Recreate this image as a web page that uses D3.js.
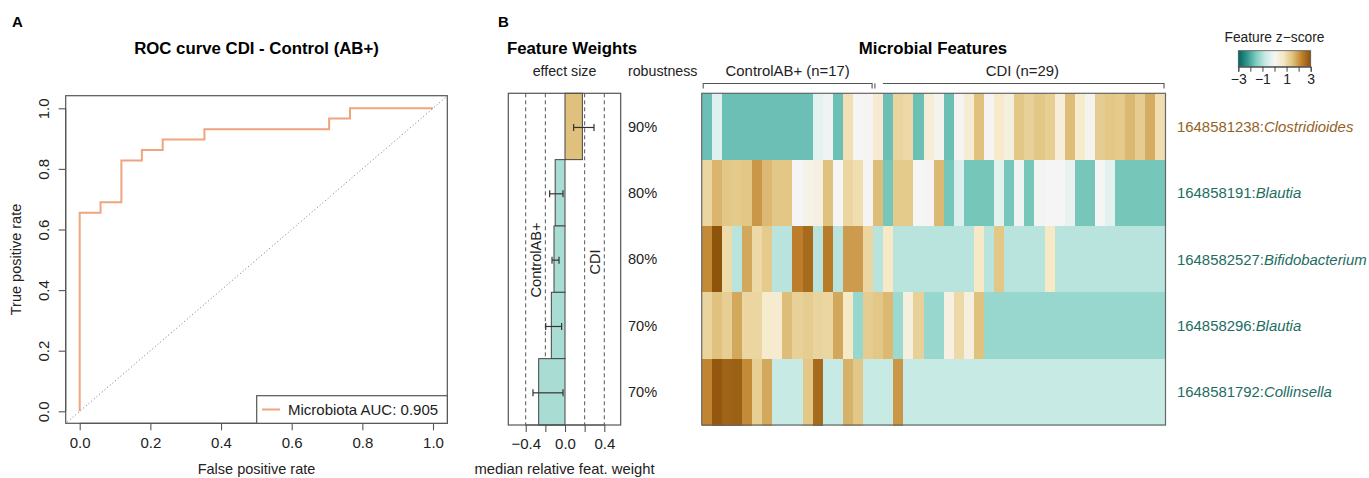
<!DOCTYPE html>
<html>
<head>
<meta charset="utf-8">
<script src="https://cdn.jsdelivr.net/npm/d3@7"></script>
<style>
  html, body { margin: 0; padding: 0; background: #ffffff; }
  svg { display: block; font-family: "Liberation Sans", Arial, Helvetica, sans-serif; }
</style>
</head>
<body>
<svg id="chart" width="1369" height="478"></svg>
<script>
// ---------------- DATA ----------------
// ROC curve (step vertices)
const rocFpr = [0, 0, 0.059, 0.059, 0.118, 0.118, 0.176, 0.176, 0.235, 0.235, 0.353, 0.353, 0.706, 0.706, 0.765, 0.765, 1.0];
const rocTpr = [0, 0.655, 0.655, 0.690, 0.690, 0.828, 0.828, 0.862, 0.862, 0.897, 0.897, 0.931, 0.931, 0.966, 0.966, 1.0, 1.0];
const rocTicks = [0, 0.2, 0.4, 0.6, 0.8, 1.0];
const rocLegend = "Microbiota AUC: 0.905";

// Features
const featureIds = ["1648581238", "164858191", "1648582527", "164858296", "1648581792"];
const featureGenus = ["Clostridioides", "Blautia", "Bifidobacterium", "Blautia", "Collinsella"];
const robustness = ["90%", "80%", "80%", "70%", "70%"];
const weightMedian = [0.177, -0.100, -0.112, -0.139, -0.268];
const weightLow = [0.088, -0.156, -0.132, -0.196, -0.326];
const weightHigh = [0.295, -0.020, -0.061, -0.034, -0.020];
const weightTicks = [-0.4, -0.2, 0.0, 0.2, 0.4];
const weightTickLabels = ["\u22120.4", "", "0.0", "", "0.4"];
const weightGrid = [-0.4, -0.2, 0.2, 0.4];

// Groups
const groupNames = ["ControlAB+", "CDI"];
const groupSizes = [17, 29];

// Heatmap z-scores (rows = features, columns = samples: 17 ControlAB+ then 29 CDI)
const zRow1 = [-1.7, -0.35, -1.7, -1.7, -1.7, -1.7, -1.7, -1.7, -1.7, -1.7, -1.7,
  -0.3, -0.1, -1.7, 0.9, 0, 0.05, 0.55, -1.7, 1.15, 1.05,
  -1.7, 0.45, 0.1, -1.7, 0.05, 0.5, 1.5, 0.05, 0.65, 0.35,
  1.4, 1.2, 1.4, 1.25, 0.4, 1.55, 0.6, 0.1, 1.3, 1.4,
  1.35, 1.6, 1.3, 1.75, 0.95];
const zRow2 = [1.1, 1.65, 1.4, 1.35, 1.4, 2.0, 1.6, 1.4, 1.4, 0, 0.2,
  0.3, 1.5, 0, 1.1, 0.95, 0.05, 1.55, -1.6, 1.35, 1.35,
  0, 0.05, 1.6, -1.6, -0.4, -1.6, -1.6, -1.6, -0.3, -1.6,
  -0.1, -1.6, -0.05, 0, 0, -0.2, -1.6, -1.6, 0, -0.3,
  -1.6, -1.6, -1.6, -1.6, -1.6];
const zRow3 = [2.15, 2.95, 1.0, -0.9, 1.8, 1.05, 1.35, -0.9, -0.9, 2.3, 2.6,
  -0.9, 2.35, -0.9, 1.95, 1.95, 1.1, -0.9, 0.7, -0.9, -0.9,
  -0.9, -0.9, -0.9, -0.9, -0.9, -0.9, 0.7, -0.9, 1.4, -0.9,
  -0.9, -0.9, -0.9, 0.7, -0.9, -0.9, -0.9, -0.9, -0.9, -0.9,
  -0.9, -0.9, -0.9, -0.9, -0.9];
const zRow4 = [1.15, 1.5, 1.25, 1.8, 1.1, 1.1, 0.6, 0.55, 1.55, 1.2, 1.3,
  1.15, 1.1, 1.8, 0.7, -1.25, 1.3, 1.4, 1.6, -1.2, 0.35,
  1.2, -1.25, -1.25, 0.3, 1.05, 0.35, 1.5, -1.25, -1.25, -1.25,
  -1.25, -1.25, -1.25, -1.25, -1.25, -1.25, -1.25, -1.25, -1.25, -1.25,
  -1.25, -1.25, -1.25, -1.25, -1.25];
const zRow5 = [2.2, 2.9, 2.7, 2.75, 2.15, 1.25, 1.8, -0.75, -0.75, -0.75, 1.4,
  2.6, -0.75, -0.75, 1.7, 1.4, -0.75, -0.75, -0.75, 2.0, -0.75,
  -0.75, -0.75, -0.75, -0.75, -0.75, -0.75, -0.75, -0.75, -0.75, -0.75,
  -0.75, -0.75, -0.75, -0.75, -0.75, -0.75, -0.75, -0.75, -0.75, -0.75,
  -0.75, -0.75, -0.75, -0.75, -0.75];
const zRows = [zRow1, zRow2, zRow3, zRow4, zRow5];

const zLegendTicks = [-3, -2, -1, 0, 1, 2, 3];
const zLegendLabels = ["\u22123", "", "\u22121", "", "1", "", "3"];

// ---------------- DRAW ----------------
const svg = d3.select("#chart");
svg.append("rect").attr("width", 1369).attr("height", 478).attr("fill", "#fff");
const FG = "#222";
const BOX = "#555";

// ===== Panel A: ROC =====
const rocX = d3.scaleLinear().domain([0, 1]).range([79.7, 433]);
const rocY = d3.scaleLinear().domain([0, 1]).range([411.3, 108.3]);
const rocBox = {x0: 65.7, x1: 447.3, y0: 95.7, y1: 423.3};

svg.append("text").attr("x", 12).attr("y", 27).attr("font-weight", "bold").attr("font-size", 15).attr("fill", "#000").text("A");
svg.append("text").attr("x", (rocBox.x0 + rocBox.x1) / 2).attr("y", 54).attr("text-anchor", "middle")
  .attr("font-weight", "bold").attr("font-size", 16.8).attr("fill", "#000").text("ROC curve CDI - Control (AB+)");

svg.append("defs").append("clipPath").attr("id", "rocclip").append("rect")
  .attr("x", rocBox.x0).attr("y", rocBox.y0).attr("width", rocBox.x1 - rocBox.x0).attr("height", rocBox.y1 - rocBox.y0);

// diagonal
svg.append("line").attr("clip-path", "url(#rocclip)")
  .attr("x1", rocX(-0.05)).attr("y1", rocY(-0.05)).attr("x2", rocX(1.05)).attr("y2", rocY(1.05))
  .attr("stroke", "#777").attr("stroke-width", 1).attr("stroke-dasharray", "1,2.5");

// ROC line
const rocPts = rocFpr.map((f, i) => [f, rocTpr[i]]);
svg.append("path").datum(rocPts)
  .attr("d", d3.line().x(d => rocX(d[0])).y(d => rocY(d[1])))
  .attr("fill", "none").attr("stroke", "#eea47d").attr("stroke-width", 2);

// box
svg.append("rect").attr("x", rocBox.x0).attr("y", rocBox.y0).attr("width", rocBox.x1 - rocBox.x0).attr("height", rocBox.y1 - rocBox.y0)
  .attr("fill", "none").attr("stroke", BOX).attr("stroke-width", 1.2);

// axes
const axB = svg.append("g").attr("transform", `translate(0,${rocBox.y1})`)
  .call(d3.axisBottom(rocX).tickValues(rocTicks).tickFormat(d3.format(".1f")).tickSize(7).tickPadding(7));
const axL = svg.append("g").attr("transform", `translate(${rocBox.x0},0)`)
  .call(d3.axisLeft(rocY).tickValues(rocTicks).tickFormat(d3.format(".1f")).tickSize(7));
[axB, axL].forEach(g => {
  g.select(".domain").attr("stroke", BOX).attr("stroke-width", 1.1);
  g.selectAll(".tick line").attr("stroke", BOX).attr("stroke-width", 1.1);
  g.selectAll("text").attr("font-size", 15).attr("fill", FG).attr("font-family", null);
});
axB.select(".domain").attr("d", `M${rocX(0)},0V0H${rocX(1)}V0`);
axL.select(".domain").attr("d", `M0,${rocY(0)}H0V${rocY(1)}H0`);
axL.selectAll(".tick text").attr("transform", "rotate(-90)").attr("x", 0).attr("y", -16.4).attr("dy", 0).attr("text-anchor", "middle");

svg.append("text").attr("x", (rocBox.x0 + rocBox.x1) / 2).attr("y", 474).attr("text-anchor", "middle")
  .attr("font-size", 14.5).attr("fill", FG).text("False positive rate");
svg.append("text").attr("transform", `translate(21,${(rocBox.y0 + rocBox.y1) / 2}) rotate(-90)`).attr("text-anchor", "middle")
  .attr("font-size", 14.5).attr("fill", FG).text("True positive rate");

// legend
const lg = svg.append("g");
lg.append("rect").attr("x", 256.7).attr("y", 395.7).attr("width", rocBox.x1 - 256.7).attr("height", rocBox.y1 - 395.7)
  .attr("fill", "#fff").attr("stroke", BOX).attr("stroke-width", 1.2);
lg.append("line").attr("x1", 262).attr("x2", 280).attr("y1", 409.5).attr("y2", 409.5).attr("stroke", "#eea47d").attr("stroke-width", 2);
lg.append("text").attr("x", 288).attr("y", 415).attr("font-size", 15).attr("fill", FG).text(rocLegend);

// ===== Panel B: Feature weights =====
svg.append("text").attr("x", 498).attr("y", 27).attr("font-weight", "bold").attr("font-size", 15).attr("fill", "#000").text("B");

const rowBand = d3.scaleBand().domain(d3.range(featureIds.length)).range([93.3, 425]).paddingInner(0).paddingOuter(0);
const wX = d3.scaleLinear().domain([-0.4, 0.4]).range([525.7, 604.3]);
const wBox = {x0: 508.3, x1: 620.7, y0: 93.3, y1: 425};

svg.append("text").attr("x", 572).attr("y", 54).attr("text-anchor", "middle").attr("font-weight", "bold")
  .attr("font-size", 16.8).attr("fill", "#000").text("Feature Weights");
svg.append("text").attr("x", (wBox.x0 + wBox.x1) / 2).attr("y", 76).attr("text-anchor", "middle")
  .attr("font-size", 14.2).attr("fill", FG).text("effect size");
svg.append("text").attr("x", 628).attr("y", 76).attr("font-size", 14.2).attr("fill", FG).text("robustness");

// grid dashed lines
svg.selectAll("line.wgrid").data(weightGrid).enter().append("line").attr("class", "wgrid")
  .attr("x1", d => wX(d)).attr("x2", d => wX(d)).attr("y1", wBox.y0).attr("y2", wBox.y1)
  .attr("stroke", "#555").attr("stroke-width", 1).attr("stroke-dasharray", "4,3");

// bars
svg.selectAll("rect.wbar").data(weightMedian).enter().append("rect").attr("class", "wbar")
  .attr("x", d => wX(Math.min(0, d))).attr("width", d => Math.abs(wX(d) - wX(0)))
  .attr("y", (d, i) => rowBand(i)).attr("height", rowBand.bandwidth())
  .attr("fill", d => d > 0 ? "#dfc17d" : "#a9ddd3").attr("stroke", "#444").attr("stroke-width", 1);

// error bars
const eb = svg.selectAll("g.eb").data(weightMedian).enter().append("g").attr("class", "eb")
  .attr("transform", (d, i) => `translate(0,${rowBand(i) + rowBand.bandwidth() / 2 + 1})`);
eb.append("line").attr("x1", (d, i) => wX(weightLow[i])).attr("x2", (d, i) => wX(weightHigh[i])).attr("stroke", "#333").attr("stroke-width", 1.2);
eb.append("line").attr("x1", (d, i) => wX(weightLow[i])).attr("x2", (d, i) => wX(weightLow[i])).attr("y1", -3.5).attr("y2", 3.5).attr("stroke", "#333").attr("stroke-width", 1.2);
eb.append("line").attr("x1", (d, i) => wX(weightHigh[i])).attr("x2", (d, i) => wX(weightHigh[i])).attr("y1", -3.5).attr("y2", 3.5).attr("stroke", "#333").attr("stroke-width", 1.2);

// box
svg.append("rect").attr("x", wBox.x0).attr("y", wBox.y0).attr("width", wBox.x1 - wBox.x0).attr("height", wBox.y1 - wBox.y0)
  .attr("fill", "none").attr("stroke", BOX).attr("stroke-width", 1.2);

// axis
const wAx = svg.append("g").attr("transform", `translate(0,${wBox.y1})`)
  .call(d3.axisBottom(wX).tickValues(weightTicks).tickFormat((d, i) => weightTickLabels[i]).tickSize(7).tickPadding(6));
wAx.select(".domain").attr("d", `M${wX(-0.4)},0V0H${wX(0.4)}V0`).attr("stroke", BOX).attr("stroke-width", 1.1);
wAx.selectAll(".tick line").attr("stroke", BOX).attr("stroke-width", 1.1);
wAx.selectAll("text").attr("font-size", 15).attr("fill", FG).attr("font-family", null);

svg.append("text").attr("x", (wBox.x0 + wBox.x1) / 2).attr("y", 474).attr("text-anchor", "middle")
  .attr("font-size", 14.8).attr("fill", FG).text("median relative feat. weight");

// direction labels
svg.append("text").attr("transform", `translate(541,260) rotate(-90)`).attr("text-anchor", "middle")
  .attr("font-size", 14.6).attr("fill", FG).text(groupNames[0]);
svg.append("text").attr("transform", `translate(600,262) rotate(-90)`).attr("text-anchor", "middle")
  .attr("font-size", 14.6).attr("fill", FG).text(groupNames[1]);

// robustness labels
svg.selectAll("text.rob").data(robustness).enter().append("text").attr("class", "rob")
  .attr("x", 628).attr("y", (d, i) => rowBand(i) + rowBand.bandwidth() / 2).attr("dy", "0.36em")
  .attr("font-size", 14.6).attr("fill", FG).text(d => d);

// ===== Heatmap =====
const nSamples = groupSizes[0] + groupSizes[1];
const hX = d3.scaleBand().domain(d3.range(nSamples)).range([701.7, 1165.5]).paddingInner(0).paddingOuter(0);
const brbg9 = ["#8c510a", "#bf812d", "#dfc27d", "#f6e8c3", "#f5f5f5", "#c7eae5", "#80cdc1", "#35978f", "#01665e"];
const zColor = d3.scaleLinear().domain([3, 2.25, 1.5, 0.75, 0, -0.75, -1.5, -2.25, -3]).range(brbg9).clamp(true);

svg.append("text").attr("x", 933).attr("y", 54).attr("text-anchor", "middle").attr("font-weight", "bold")
  .attr("font-size", 16.8).attr("fill", "#000").text("Microbial Features");

const hm = svg.append("g").attr("shape-rendering", "crispEdges");
zRows.forEach((row, r) => {
  hm.selectAll(null).data(row).enter().append("rect")
    .attr("x", (d, c) => hX(c)).attr("y", rowBand(r))
    .attr("width", hX.bandwidth() + 0.6).attr("height", rowBand.bandwidth() + 0.6)
    .attr("fill", d => zColor(d));
});
svg.append("rect").attr("x", hX.range()[0]).attr("y", wBox.y0).attr("width", hX.range()[1] - hX.range()[0]).attr("height", wBox.y1 - wBox.y0)
  .attr("fill", "none").attr("stroke", "#666").attr("stroke-width", 1.2);

// group brackets
const bY = 83.5, bT = 5;
const g0x0 = hX(0) + 1.5, g0x1 = hX(groupSizes[0] - 1) + hX.bandwidth() - 1;
const g1x0 = hX(groupSizes[0]) + 1.8, g1x1 = hX(nSamples - 1) + hX.bandwidth() - 1.5;
const br = svg.append("g").attr("fill", "none").attr("stroke", "#555").attr("stroke-width", 1.1);
br.append("path").attr("d", `M${g0x0},${bY + bT}V${bY}H${g0x1}V${bY + bT}`);
br.append("path").attr("d", `M${g1x0},${bY + bT}V${bY}`);
br.append("path").attr("d", `M${g1x0 + 8},${bY}H${g1x1}V${bY + bT}`);
svg.append("text").attr("x", (g0x0 + g0x1) / 2).attr("y", 76).attr("text-anchor", "middle").attr("font-size", 14.9).attr("fill", FG)
  .text(`${groupNames[0]} (n=${groupSizes[0]})`);
svg.append("text").attr("x", (g1x0 + g1x1) / 2 + 3).attr("y", 76).attr("text-anchor", "middle").attr("font-size", 14.9).attr("fill", FG)
  .text(`${groupNames[1]} (n=${groupSizes[1]})`);

// row labels
featureIds.forEach((id, i) => {
  const col = weightMedian[i] > 0 ? "#94621f" : "#1d6d62";
  const t = svg.append("text").attr("x", 1177).attr("y", rowBand(i) + rowBand.bandwidth() / 2).attr("dy", "0.36em")
    .attr("font-size", 14.9).attr("fill", col);
  t.append("tspan").text(id + ":");
  t.append("tspan").attr("font-style", "italic").text(featureGenus[i]);
});

// colour legend
const zl = d3.scaleLinear().domain([-3, 3]).range([1238.3, 1310.7]);
svg.append("text").attr("x", 1274.5).attr("y", 42).attr("text-anchor", "middle").attr("font-size", 13.8).attr("fill", FG).text("Feature z\u2212score");
const grad = svg.select("defs").append("linearGradient").attr("id", "zgrad").attr("x1", "0%").attr("x2", "100%");
d3.range(-3, 3.01, 0.25).forEach(v => {
  grad.append("stop").attr("offset", ((v + 3) / 6 * 100) + "%").attr("stop-color", zColor(v));
});
svg.append("rect").attr("x", zl(-3)).attr("y", 50.7).attr("width", zl(3) - zl(-3)).attr("height", 16)
  .attr("fill", "url(#zgrad)").attr("stroke", "#555").attr("stroke-width", 0.8);
const zAx = svg.append("g").attr("transform", "translate(0,66.7)")
  .call(d3.axisBottom(zl).tickValues(zLegendTicks).tickFormat((d, i) => zLegendLabels[i]).tickSize(5).tickPadding(2));
zAx.select(".domain").attr("stroke", "#444");
zAx.selectAll(".tick line").attr("stroke", "#444");
zAx.selectAll("text").attr("font-size", 14).attr("fill", FG).attr("font-family", null);
</script>
</body>
</html>
